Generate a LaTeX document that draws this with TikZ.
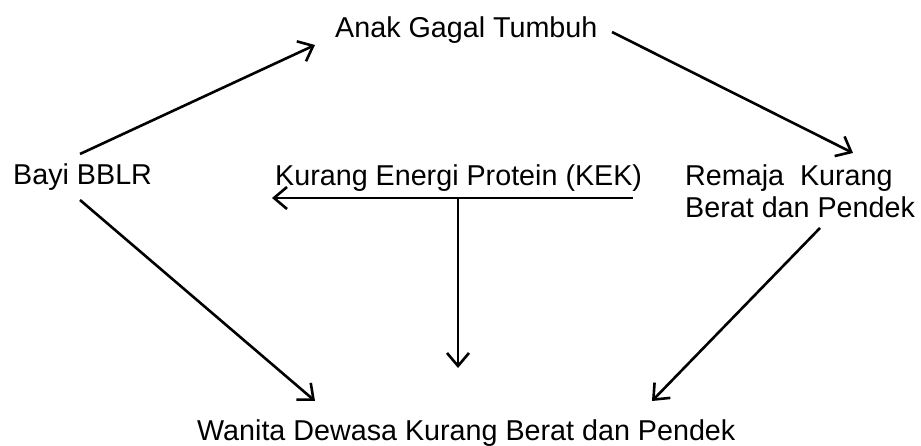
\documentclass[tikz,border=0pt]{standalone}
\usepackage{fontspec}
\setmainfont{Liberation Sans}
\usetikzlibrary{arrows.meta}
\begin{document}
\begin{tikzpicture}[x=1pt,y=1pt,
  lbl/.style={inner sep=0pt,anchor=base west,font=\fontsize{28.7}{32}\selectfont,text=black},
  arr/.style={line width=2.6pt,-{Straight Barb[length=13pt,width=22pt,line width=2.6pt]}}]
\useasboundingbox (0,0) rectangle (921,446);
\node[lbl] (anak) at (335,408) {Anak Gagal Tumbuh};
\node[lbl] (bayi) at (13,261) {Bayi BBLR};
\node[lbl] (kek) at (275,260) {Kurang Energi Protein (KEK)};
\node[lbl,align=left] (remaja) at (685,228) {Remaja\ \ Kurang\\Berat dan Pendek};
\node[lbl] (wanita) at (197,5) {Wanita Dewasa Kurang Berat dan Pendek};
\draw[arr] ([shift={(67,31)}]bayi.base west) -- ([shift={(-20,-7)}]anak.base west);
\draw[arr] ([shift={(277,6)}]anak.base west) -- ([shift={(168,65)}]remaja.base west);
\draw[arr] ([shift={(358,-12)}]kek.base west) -- ([shift={(-3,-12)}]kek.base west);
\draw[arr] ([shift={(183,-12)}]kek.base west) -- ([shift={(261,73)}]wanita.base west);
\draw[arr] ([shift={(67,-15)}]bayi.base west) -- ([shift={(118,40)}]wanita.base west);
\draw[arr] ([shift={(135,-10)}]remaja.base west) -- ([shift={(455,40)}]wanita.base west);
\end{tikzpicture}
\end{document}
